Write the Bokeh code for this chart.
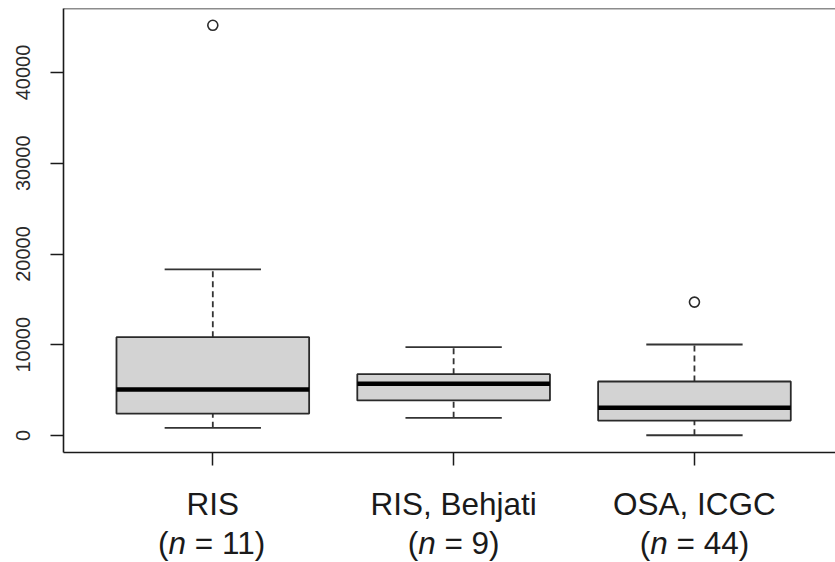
from bokeh.plotting import figure
from bokeh.layouts import column
from bokeh.models import ColumnDataSource, Range1d, FixedTicker, Span
from bokeh.core.properties import value
from bokeh.embed import file_html
from bokeh.resources import INLINE

# Box-plot summaries for each cohort
categories = ["RIS", "RIS, Behjati", "OSA, ICGC"]
n_samples = [11, 9, 44]
lower_whisker = [850, 1950, 30]
q1 = [2420, 3860, 1650]
median = [5070, 5700, 3050]
q3 = [10840, 6760, 5950]
upper_whisker = [18300, 9730, 10030]

# Outlying points (category index, value)
outlier_pos = [1, 3]
outlier_val = [45200, 14700]

y_ticks = [0, 10000, 20000, 30000, 40000]

FONT = "Liberation Sans"
LINE = "#1a1a1a"
X0, X1 = 0.38, 3.5857
Y0, Y1 = -1873, 47052

xs = list(range(1, len(categories) + 1))
box_w = 0.8
cap_w = 0.4

src = ColumnDataSource(dict(
    x=xs,
    lo=lower_whisker, q1=q1, med=median, q3=q3, hi=upper_whisker,
    bx0=[x - box_w / 2 for x in xs], bx1=[x + box_w / 2 for x in xs],
    cx0=[x - cap_w / 2 for x in xs], cx1=[x + cap_w / 2 for x in xs],
))

x_range = Range1d(X0, X1)
p = figure(width=835, height=468, output_backend="svg", toolbar_location=None,
           title=None, x_range=x_range, y_range=Range1d(Y0, Y1),
           min_border_left=63, min_border_right=0, min_border_top=8,
           min_border_bottom=16)
p.outline_line_color = None
p.grid.visible = False

# Axes
yax = p.yaxis[0]
yax.ticker = FixedTicker(ticks=y_ticks)
yax.minor_tick_line_color = None
yax.major_tick_out = 13
yax.major_tick_in = 0
yax.major_tick_line_width = 1.5
yax.major_tick_line_color = LINE
yax.axis_line_color = LINE
yax.axis_line_width = 1.6
yax.major_label_orientation = "vertical"
yax.major_label_text_font = FONT
yax.major_label_text_font_size = "20px"
yax.major_label_text_color = "#2a2a2a"
yax.major_label_standoff = 20

xax = p.xaxis[0]
xax.ticker = FixedTicker(ticks=xs)
xax.minor_tick_line_color = None
xax.major_tick_out = 13
xax.major_tick_in = 0
xax.major_tick_line_width = 1.5
xax.major_tick_line_color = LINE
xax.axis_line_color = LINE
xax.axis_line_width = 1.6
# category names are drawn in the strip below instead
xax.major_label_overrides = {x: "" for x in xs}

# Top border of the plotting region
p.add_layout(Span(location=Y1, dimension="width", line_color=LINE, line_width=1.6))

# Whiskers (dashed) and staples
p.segment(x0="x", y0="q3", x1="x", y1="hi", source=src, line_color="#333333",
          line_width=1.8, line_dash="6 4")
p.segment(x0="x", y0="lo", x1="x", y1="q1", source=src, line_color="#333333",
          line_width=1.8, line_dash="6 4")
p.segment(x0="cx0", y0="hi", x1="cx1", y1="hi", source=src, line_color="#333333",
          line_width=1.8)
p.segment(x0="cx0", y0="lo", x1="cx1", y1="lo", source=src, line_color="#333333",
          line_width=1.8)

# Boxes and medians
p.quad(left="bx0", right="bx1", bottom="q1", top="q3", source=src,
       fill_color="#D3D3D3", line_color="#2a2a2a", line_width=1.8)
p.segment(x0="bx0", y0="med", x1="bx1", y1="med", source=src, line_color="black",
          line_width=4.5, line_cap="butt")

# Outliers
p.scatter(x=outlier_pos, y=outlier_val, marker="circle", size=10,
          fill_color=None, line_color="#2a2a2a", line_width=1.6)

# Strip below the axis with two-line category labels (italic n)
LAB_H = 94
q = figure(width=835, height=LAB_H, output_backend="svg", toolbar_location=None,
           title=None, x_range=x_range, y_range=Range1d(0, LAB_H),
           x_axis_location=None, y_axis_location=None,
           min_border_left=63, min_border_right=0, min_border_top=0,
           min_border_bottom=0)
q.grid.visible = False
q.outline_line_color = None

px_per_x = 772 / (X1 - X0)
size = 31.5
w = {"(": 0.333, ")": 0.333, " ": 0.278, "=": 0.584, "n": 0.556}
for d in "0123456789":
    w[d] = 0.556


def text_px(s):
    return sum(w[c] for c in s) * size


line1_y = LAB_H - (503 - 468)
line2_y = LAB_H - (542 - 468)
font_kw = dict(text_font=value(FONT), text_font_size=value(f"{size}px"),
               text_color="#1a1a1a", text_baseline="alphabetic")

q.text(x=xs, y=[line1_y] * len(xs), text=categories, text_align="center", **font_kw)

# second line: "(" + italic "n" + " = N)"; leading blanks are placed by offset
open_x, n_x, tail_x, tails = [], [], [], []
for x, n in zip(xs, n_samples):
    tail = f"= {n})"
    total = text_px("(") + text_px("n") + text_px(" ") + text_px(tail)
    start = x - total / 2 / px_per_x
    open_x.append(start)
    n_x.append(start + text_px("(") / px_per_x)
    tail_x.append(start + (text_px("(") + text_px("n") + text_px(" ")) / px_per_x)
    tails.append(tail)

ys2 = [line2_y] * len(xs)
q.text(x=open_x, y=ys2, text=["("] * len(xs), text_align="left", **font_kw)
q.text(x=n_x, y=ys2, text=["n"] * len(xs), text_align="left",
       text_font_style="italic", **font_kw)
q.text(x=tail_x, y=ys2, text=tails, text_align="left", **font_kw)

layout = column(p, q, spacing=0)
open("out.html", "w").write(file_html(layout, INLINE))
